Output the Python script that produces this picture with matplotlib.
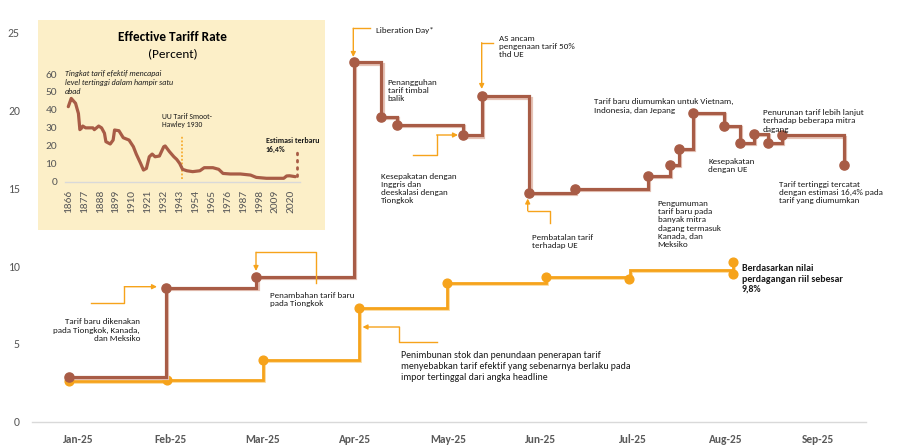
import matplotlib
matplotlib.use('Agg')
import matplotlib.pyplot as plt
import matplotlib.transforms as mtransforms
import matplotlib.patheffects as pe
from matplotlib.patches import Rectangle, FancyArrowPatch
from matplotlib.lines import Line2D
from matplotlib import font_manager

W, H = 898, 447

avail = {f.name for f in font_manager.fontManager.ttflist}
FONT = next((f for f in ['Carlito', 'Liberation Sans Narrow', 'Roboto Condensed', 'Roboto', 'Lato']
             if f in avail), 'DejaVu Sans')
plt.rcParams['font.family'] = [FONT, 'DejaVu Sans']

# ---------------- data ----------------
month_labels = ['Jan-25', 'Feb-25', 'Mar-25', 'Apr-25', 'May-25', 'Jun-25', 'Jul-25', 'Aug-25', 'Sep-25']

# statutory (announced) effective tariff rate, x in month units (0 = Jan-25)
brown_x = [-0.10, 0.95, 1.93, 2.98, 3.28, 3.45, 4.16, 4.37, 4.88, 5.37,
           6.16, 6.40, 6.50, 6.65, 6.98, 7.16, 7.31, 7.46, 7.61, 8.28]
brown_v = [2.9, 8.6, 9.3, 23.1, 19.6, 19.1, 18.4, 20.9, 14.7, 14.95,
           15.8, 16.5, 17.55, 19.85, 19.0, 17.9, 18.5, 17.9, 18.4, 16.5]

# effective rate on actual imports
orange_x = [-0.10, 0.96, 2.00, 3.04, 3.99, 5.06, 5.96, 5.97, 7.08, 7.08]
orange_v = [2.6, 2.65, 3.97, 7.3, 8.9, 9.28, 9.2, 9.72, 9.47, 10.28]
orange_marker = [1, 1, 1, 1, 1, 1, 1, 0, 1, 1]

# historical effective tariff rate (inset)
hist_years = [1866, 1868, 1869, 1871, 1873, 1874, 1875, 1876, 1878, 1883, 1884, 1887, 1889,
              1891, 1892, 1895, 1897, 1898, 1901, 1904, 1908, 1911, 1913, 1916, 1918, 1920,
              1922, 1924, 1926, 1929, 1932, 1933, 1936, 1939, 1941, 1943, 1945, 1948, 1952,
              1957, 1960, 1966, 1970, 1973, 1978, 1985, 1992, 1996, 2003, 2015, 2017, 2019, 2023]
hist_rate = [41.8, 46.4, 45.5, 43.7, 38.0, 29.0, 29.7, 31.0, 30.0, 30.0, 29.0, 31.0, 30.0,
             27.0, 22.3, 21.0, 23.2, 28.8, 28.4, 24.5, 23.2, 19.5, 15.4, 10.2, 6.5, 7.4,
             13.9, 15.4, 13.9, 14.3, 19.5, 19.9, 16.7, 13.9, 12.4, 10.2, 6.9, 6.1, 5.6,
             6.1, 7.8, 7.8, 6.9, 4.6, 4.3, 4.3, 3.7, 2.4, 1.9, 1.9, 3.2, 3.3, 2.8]
hist_ticks = list(range(1866, 2021, 11))
estimate_year = 2024.5
estimate_range = [3.0, 16.4]
smoot_year = 1944.4
smoot_range = [1.5, 26.0]

BROWN = '#A85C46'
ORANGE = '#F6A31B'
BEIGE = '#FCEFC8'
GRAY = '#595959'
TXT = '#1A1A1A'

fig = plt.figure(figsize=(W / 100, H / 100), dpi=100)
fig.patch.set_facecolor('white')
# pixel transform (origin top-left) for annotation layout
T = mtransforms.Affine2D().scale(1 / W, -1 / H).translate(0, 1) + fig.transFigure

# ---------------- main axes ----------------
ax = fig.add_axes([31.7 / W, 1 - 421.7 / H, (866 - 31.7) / W, (421.7 - 32.7) / H])
ax.set_facecolor('none')
ax.set_xlim(-0.5, 8.52)
ax.set_ylim(0, 25)
for s in ['top', 'right', 'left']:
    ax.spines[s].set_visible(False)
ax.spines['bottom'].set_color('#D9D9D9')
ax.spines['bottom'].set_linewidth(1.0)
ax.set_xticks(range(len(month_labels)))
ax.set_xticklabels(month_labels, fontsize=8.2, fontweight='bold', color=GRAY)
ax.set_yticks([0, 5, 10, 15, 20, 25])
ax.tick_params(axis='both', length=0)
ax.tick_params(axis='x', pad=8.5)
ax.tick_params(axis='y', pad=8.5, labelsize=8.5, labelcolor=GRAY)

shadow_b = [pe.SimpleLineShadow(offset=(0.9, -0.9), shadow_color='#E6C3B6', alpha=1.0), pe.Normal()]
shadow_o = [pe.SimpleLineShadow(offset=(0.7, -0.7), shadow_color='#FBD99C', alpha=1.0), pe.Normal()]

ax.plot(orange_x, orange_v, drawstyle='steps-post', color=ORANGE, lw=2.0, zorder=3,
        solid_joinstyle='miter', path_effects=shadow_o)
mx = [x for x, m in zip(orange_x, orange_marker) if m]
mv = [v for v, m in zip(orange_v, orange_marker) if m]
ax.plot(mx, mv, 'o', color=ORANGE, ms=6.3, zorder=4)

ax.plot(brown_x, brown_v, drawstyle='steps-post', color=BROWN, lw=2.3, zorder=5,
        solid_joinstyle='miter', path_effects=shadow_b)
ax.plot(brown_x, brown_v, 'o', color=BROWN, ms=6.6, zorder=6)


# ---------------- annotations ----------------
def note(px, py, s, fs=6.5, pitch=11.0, weight='normal', ha='left', style='normal', color=TXT):
    """px: left (or right) edge, py: visual centre of the first line, in pixels."""
    n = s.count('\n')
    ls = pitch / (fs * 100 / 72)
    fig.text(px, py + n * pitch + 0.36 * fs * 100 / 72, s, transform=T, fontsize=fs, color=color,
             ha=ha, va='baseline', linespacing=ls, fontweight=weight, style=style, zorder=10)


def connector(pts):
    xs = [p[0] for p in pts]
    ys = [p[1] for p in pts]
    fig.add_artist(Line2D(xs[:-1], ys[:-1], transform=T, color=ORANGE, lw=1.0, zorder=9))
    fig.add_artist(FancyArrowPatch(pts[-2], pts[-1], transform=T,
                                   arrowstyle='-|>', mutation_scale=7, color=ORANGE, lw=1.0,
                                   shrinkA=0, shrinkB=0, zorder=9))


note(375.7, 30.0, 'Liberation Day*')
connector([(370, 28.3), (353.3, 28.3), (353.3, 57)])
note(499, 33.0, 'AS ancam\npengenaan tarif 50%\nthd UE', pitch=10.3)
connector([(493, 42.7), (481.7, 42.7), (481.7, 89)])
note(387.7, 76.0, 'Penangguhan\ntarif timbal\nbalik')
note(381, 167.7, 'Kesepakatan dengan\nInggris dan\ndeeskalasi dengan\nTiongkok', pitch=10.8)
connector([(413.3, 155), (436.7, 155), (436.7, 135), (458, 135)])
note(531.7, 234.0, 'Pembatalan tarif\nterhadap UE')
connector([(550, 222.7), (550, 210.7), (527.7, 210.7), (527.7, 198.5)])
note(594.3, 98.3, 'Tarif baru diumumkan untuk Vietnam,\nIndonesia, dan Jepang')
note(763, 106.0, 'Penurunan tarif lebih lanjut\nterhadap beberapa mitra\ndagang', pitch=11.2)
note(708.3, 157.7, 'Kesepakatan\ndengan UE', pitch=10.6)
note(779.3, 178.3, 'Tarif tertinggi tercatat\ndengan estimasi 16,4% pada\ntarif yang diumumkan', pitch=10.9)
note(657.7, 189.3, 'Pengumuman\ntarif baru pada\nbanyak mitra\ndagang termasuk\nKanada, dan\nMeksiko', pitch=10.95)
note(140, 316.0, 'Tarif baru dikenakan\npada Tiongkok, Kanada,\ndan Meksiko', ha='right', pitch=10.7)
connector([(90.7, 303.3), (124.3, 303.3), (124.3, 286.7), (157, 286.7)])
note(270, 291.7, 'Penambahan tarif baru\npada Tiongkok', pitch=10.6)
connector([(316, 282.7), (316, 252.3), (256, 252.3), (256, 271)])
note(400.7, 350.7, 'Penimbunan stok dan penundaan penerapan tarif\n'
     'menyebabkan tarif efektif yang sebenarnya berlaku pada\nimpor tertinggal dari angka headline',
     fs=7.15, pitch=12.7)
connector([(436.7, 342.3), (399.3, 342.3), (399.3, 327), (362.5, 327)])
note(741.7, 265.0, 'Berdasarkan nilai\nperdagangan riil sebesar\n9,8%', fs=7.1, pitch=11.7, weight='bold')

# ---------------- inset ----------------
fig.add_artist(Rectangle((37.7 / W, 1 - 230 / H), (325 - 37.7) / W, (230 - 20) / H,
                         transform=fig.transFigure, facecolor=BEIGE, edgecolor='none', zorder=1))

pxy = 1.446
iax_l = 68.3 - 2 * pxy
iax_r = 68.3 + 160 * pxy
iax = fig.add_axes([iax_l / W, 1 - 181.7 / H, (iax_r - iax_l) / W, (181.7 - 74) / H], zorder=2)
iax.set_facecolor('none')
iax.set_xlim(1864, 2026)
iax.set_ylim(0, 60)
for s in ['top', 'right', 'left']:
    iax.spines[s].set_visible(False)
iax.spines['bottom'].set_color('#D9D9D9')
iax.spines['bottom'].set_linewidth(1.0)
iax.set_xticks(hist_ticks)
iax.set_xticklabels([str(t) for t in hist_ticks], rotation=90, fontsize=8.2, color=GRAY)
iax.set_yticks(range(0, 61, 10))
iax.tick_params(axis='both', length=0, pad=6)
iax.tick_params(axis='y', labelsize=8.2, labelcolor=GRAY)
iax.plot(hist_years, hist_rate, color=BROWN, lw=2.3, solid_capstyle='round', zorder=3)
iax.plot([smoot_year, smoot_year], smoot_range, color=ORANGE, lw=1.1, ls=(0, (1.2, 1.2)), zorder=2)
iax.plot([estimate_year, estimate_year], estimate_range, color=BROWN, lw=2.0, ls=(0, (0.6, 2.0)),
         dash_capstyle='round', zorder=3, clip_on=False)

note(172.7, 36.0, 'Effective Tariff Rate', fs=9.5, weight='bold', ha='center', color='black')
note(172.7, 52.7, '(Percent)', fs=9.5, ha='center', color='black')
note(65, 70.0, 'Tingkat tarif efektif mencapai\nlevel tertinggi dalam hampir satu\nabad',
     fs=5.8, pitch=10.5, style='italic')
note(161.7, 115.0, 'UU Tarif Smoot-\nHawley 1930', fs=5.5, pitch=9.5)
note(265.7, 139.3, 'Estimasi terbaru\n16,4%', fs=5.7, pitch=9.7, weight='bold')

fig.savefig('out.png', dpi=100)
